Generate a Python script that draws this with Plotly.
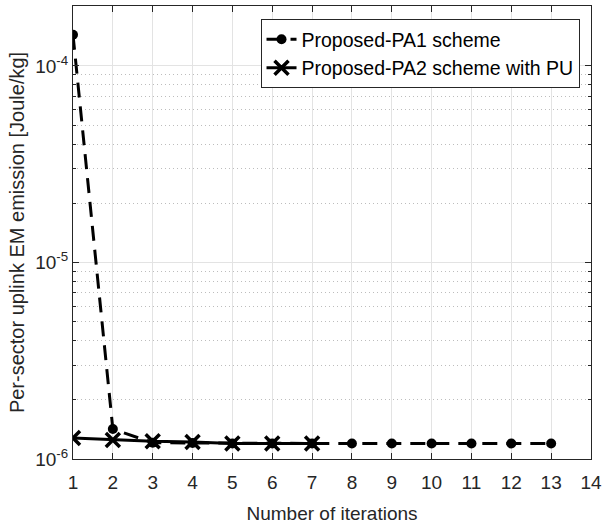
import plotly.graph_objects as go

iters_pa1 = [1, 2, 3, 4, 5, 6, 7, 8, 9, 10, 11, 12, 13]
em_pa1 = [1.44e-4, 1.42e-6, 1.21e-6, 1.205e-6, 1.2e-6, 1.2e-6, 1.2e-6, 1.2e-6, 1.2e-6, 1.2e-6, 1.2e-6, 1.2e-6, 1.2e-6]
iters_pa2 = [1, 2, 3, 4, 5, 6, 7]
em_pa2 = [1.28e-6, 1.25e-6, 1.23e-6, 1.22e-6, 1.2e-6, 1.2e-6, 1.2e-6]

x_ticks = list(range(1, 15))
y_ticks = [1e-6, 1e-5, 1e-4]
y_ticktext = ["10<sup>-6</sup>", "10<sup>-5</sup>", "10<sup>-4</sup>"]

FONT = "Liberation Sans, Arial, Helvetica, sans-serif"
AX = "#262626"

fig = go.Figure()
fig.add_trace(go.Scatter(
    x=iters_pa1, y=em_pa1, mode="lines+markers", name="Proposed-PA1 scheme",
    line=dict(color="black", width=3, dash="15px,9px"),
    marker=dict(symbol="circle", size=10, color="black"),
))
fig.add_trace(go.Scatter(
    x=iters_pa2, y=em_pa2, mode="lines+markers", name="Proposed-PA2 scheme with PU",
    line=dict(color="black", width=3),
    marker=dict(symbol="x-thin", size=14, color="black", line=dict(color="black", width=3.5)),
))

fig.update_layout(
    width=607, height=527,
    margin=dict(l=73, r=12, t=5, b=68),
    paper_bgcolor="white", plot_bgcolor="white",
    font=dict(family=FONT, size=19, color=AX),
    showlegend=True,
    legend=dict(
        x=0.362, y=0.971, xanchor="left", yanchor="top",
        bgcolor="white", bordercolor=AX, borderwidth=1,
        font=dict(family=FONT, size=19.5, color="black"),
        tracegroupgap=0, itemwidth=30,
    ),
)
fig.update_xaxes(
    range=[1, 14], tickvals=x_ticks, ticktext=[str(v) for v in x_ticks],
    title=dict(text="Number of iterations", font=dict(size=19, family=FONT, color=AX), standoff=14),
    showline=True, linecolor=AX, linewidth=1, mirror="ticks",
    ticks="inside", ticklen=6, tickcolor=AX, ticklabelstandoff=6,
    showgrid=True, gridcolor="#e3e3e3", gridwidth=1, zeroline=False,
    tickfont=dict(size=19, family=FONT, color=AX),
)
fig.update_yaxes(
    type="log", range=[-6, -3.695], tickvals=y_ticks, ticktext=y_ticktext,
    title=dict(text="Per-sector uplink EM emission [Joule/kg]", font=dict(size=20, family=FONT, color=AX), standoff=5),
    showline=True, linecolor=AX, linewidth=1, mirror="ticks",
    ticks="inside", ticklen=6, tickcolor=AX,
    showgrid=True, gridcolor="#e3e3e3", gridwidth=1, zeroline=False,
    tickfont=dict(size=19, family=FONT, color=AX),
    minor=dict(ticks="inside", ticklen=3, tickcolor=AX, showgrid=True,
               gridcolor="#bdbdbd", griddash="1px,3px", gridwidth=1, dtick="D1"),
)

fig.write_html("out.html")
